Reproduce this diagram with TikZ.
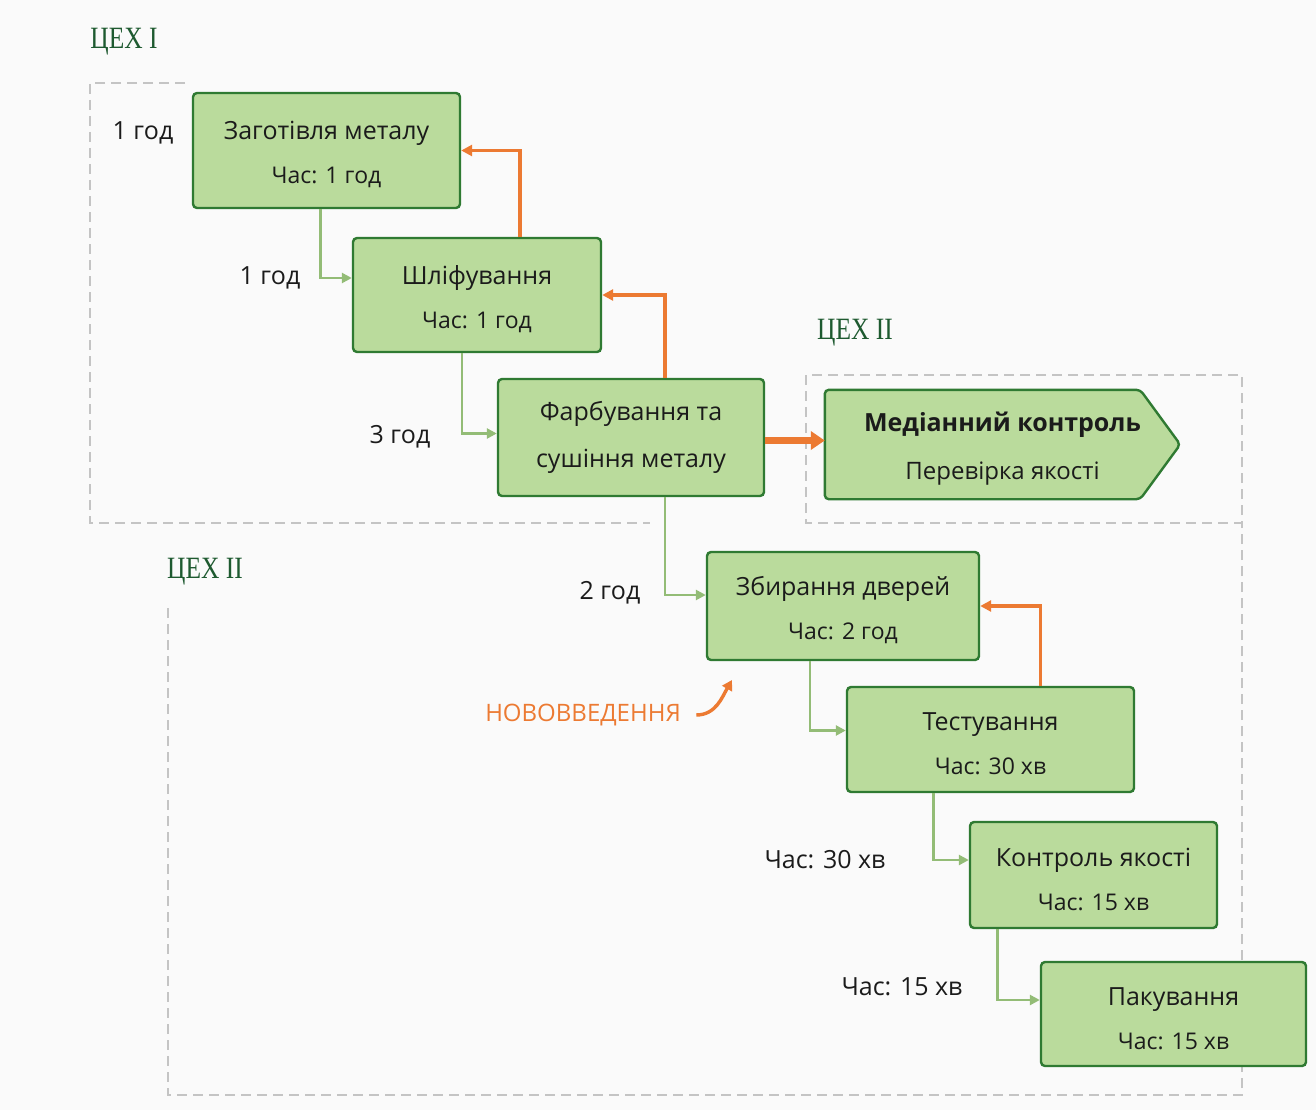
\documentclass[tikz,border=0pt]{standalone}
\usepackage{fontspec}
\setmainfont{Open Sans}
\newfontfamily\cehfont{Liberation Serif}[FakeStretch=0.82]
\usetikzlibrary{arrows.meta,calc}

\definecolor{boxfill}{HTML}{BADB9C}
\definecolor{boxline}{HTML}{2F7A32}
\definecolor{flowgreen}{HTML}{93BC76}
\definecolor{backorange}{HTML}{EC7A32}
\definecolor{dashgray}{HTML}{C4C4C4}
\definecolor{cehgreen}{HTML}{1E5A30}
\definecolor{txt}{HTML}{1B1B1B}

\newcommand{\stagetxt}[2]{\rule{0pt}{27pt}#1\\[14pt]{\fontsize{23}{27}\selectfont #2}}

\tikzset{
  stage/.style={draw=boxline, fill=boxfill, line width=2.4pt, rounded corners=4pt,
    align=center, text=txt, inner sep=0pt, font=\fontsize{25}{30}\selectfont},
  flow/.style={draw=flowgreen, line width=2.6pt, -{Triangle[length=10pt,width=10pt]}},
  back/.style={draw=backorange, line width=3.6pt, -{Triangle[length=11pt,width=11pt]}},
  zone/.style={draw=dashgray, line width=2pt, dash pattern=on 10pt off 6pt},
  timelbl/.style={text=txt, font=\fontsize{25}{30}\selectfont},
  cehlbl/.style={text=cehgreen, font=\cehfont\fontsize{31}{34}\selectfont}
}

\begin{document}
\begin{tikzpicture}[x=1pt,y=-1pt]
	\fill [white!98!black] (0,0) rectangle (1316,1110);
	\useasboundingbox (0,0) rectangle (1316,1110);

	% zones
	\draw [zone] (185,83) -- (90,83) -- (90,523) -- (650,523);
	\draw [zone] (806,375) rectangle (1242,523);
	\draw [zone] (168,608) -- (168,1095) -- (1242,1095) -- (1242,523);
	\node [cehlbl] (ceh1) at (124,42) {ЦЕХ I};
	\node [cehlbl] (ceh2) at (855,333) {ЦЕХ II};
	\node [cehlbl] (ceh3) at (205,572) {ЦЕХ II};

	% stages
	\node [stage, minimum width=267, minimum height=115] (zag) at (326.5,150.5)
		{\stagetxt{Заготівля металу}{Час: 1 год}};
	\node [stage, minimum width=248, minimum height=114] (shlif) at (477,295)
		{\stagetxt{Шліфування}{Час: 1 год}};
	\node [stage, minimum width=266, minimum height=117] (farb) at (631,437.5)
		{Фарбування та\\[17pt]сушіння металу};
	\node [stage, minimum width=272, minimum height=108] (zbyr) at (843,606)
		{\stagetxt{Збирання дверей}{Час: 2 год}};
	\node [stage, minimum width=287, minimum height=105] (test) at (990.5,739.5)
		{\stagetxt{Тестування}{Час: 30 хв}};
	\node [stage, minimum width=247, minimum height=106] (kontr) at (1093.5,875)
		{\stagetxt{Контроль якості}{Час: 15 хв}};
	\node [stage, minimum width=265, minimum height=104] (pak) at (1173.5,1014)
		{\stagetxt{Пакування}{Час: 15 хв}};

	% control point in ЦЕХ II
	\node [minimum width=355, minimum height=109, inner sep=0pt] (med) at (1002.5,444.5) {};
	\draw [draw=boxline, fill=boxfill, line width=2.4pt, rounded corners=4pt]
		(med.north west) -- ($(med.north east)+(-40,0)$) -- (med.east)
		-- ($(med.south east)+(-40,0)$) -- (med.south west) -- cycle;
	\node [align=center, text=txt, font=\fontsize{25}{30}\selectfont\bfseries] (medtxt) at (med.center)
		{\rule{0pt}{27pt}Медіанний контроль\\[18pt]{\fontsize{24}{28}\selectfont\mdseries Перевірка якості}};

	% times
	\node [timelbl] (t1) at (143,133) {1 год};
	\node [timelbl] (t2) at (270,278) {1 год};
	\node [timelbl] (t3) at (400,437) {3 год};
	\node [timelbl] (t4) at (610,593) {2 год};
	\node [timelbl] (t5) at (825,860) {Час: 30 хв};
	\node [timelbl] (t6) at (902,987) {Час: 15 хв};

	% forward flow
	\draw [flow] ([xshift=-6pt]zag.south) |- ([yshift=17pt]shlif.west);
	\draw [flow] ([xshift=-15pt]shlif.south) |- ([yshift=4pt]farb.west);
	\draw [flow] ([xshift=34pt]farb.south) |- ([yshift=11pt]zbyr.west);
	\draw [flow] ([xshift=-33pt]zbyr.south) |- ([yshift=9pt]test.west);
	\draw [flow] ([xshift=-57pt]test.south) |- ([yshift=15pt]kontr.west);
	\draw [flow] ([xshift=-96pt]kontr.south) |- ([yshift=14pt]pak.west);

	% feedback
	\draw [back] ([xshift=43pt]shlif.north) |- (zag.east);
	\draw [back] ([xshift=34pt]farb.north) |- (shlif.east);
	\draw [back] ([xshift=50pt]test.north) |- (zbyr.east);
	\draw [draw=backorange, line width=7pt, -{Triangle[length=14pt,width=18pt]}]
		([yshift=-3pt]farb.east) -- ([yshift=-3pt]farb.east -| med.west);

	% innovation
	\node [text=backorange, font=\fontsize{24}{28}\selectfont] (nov) at (583,715) {НОВОВВЕДЕННЯ};
	\coordinate (novend) at (732,680);
	\draw [draw=backorange, line width=3.4pt, -{Triangle[length=10pt,width=11pt]}]
		([xshift=12pt]nov.east) to[out=0, in=-120] (novend);
\end{tikzpicture}
\end{document}
